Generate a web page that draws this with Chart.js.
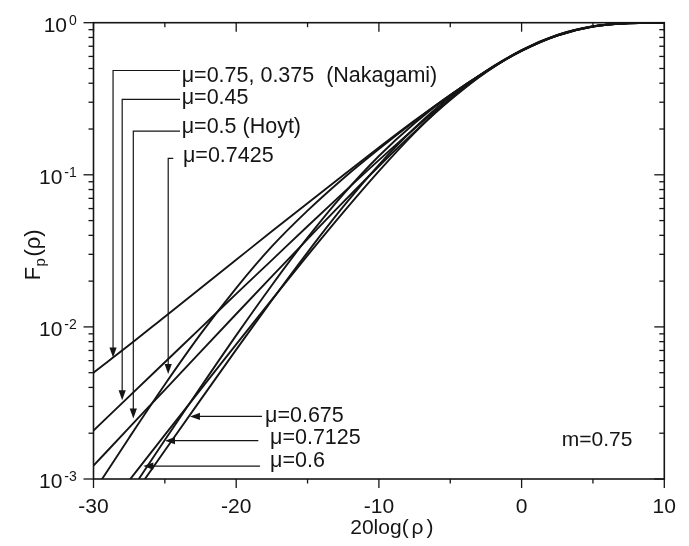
<!DOCTYPE html>
<html>
<head>
<meta charset="utf-8">
<script src="https://cdn.jsdelivr.net/npm/chart.js@4/dist/chart.umd.min.js"></script>
<style>
  html, body { margin: 0; padding: 0; background: #ffffff; }
  canvas { display: block; }
</style>
</head>
<body>
<canvas id="cdf" width="689" height="546"></canvas>
<script>
// Normalised envelope level, 20log(rho) in dB
const levelsDb = [-30, -27.5, -25, -22.5, -20, -17.5, -15, -12.5, -10, -7.5, -5, -2.5, 0, 2.5, 5, 7.5, 10];

// CDF F_rho(rho) for m = 0.75, one array per mu
const cdfMu075Nakagami = [5.0e-3, 7.59e-3, 1.168e-2, 1.797e-2, 2.764e-2, 4.25e-2, 6.51e-2, 9.94e-2, 0.151, 0.2271, 0.335, 0.479, 0.652, 0.822, 0.943, 0.992, 0.9997];
const cdfMu045 = [2.08e-3, 3.495e-3, 5.86e-3, 9.82e-3, 1.648e-2, 2.749e-2, 4.59e-2, 7.61e-2, 0.1249, 0.2015, 0.3158, 0.472, 0.657, 0.828, 0.946, 0.993, 0.9998];
const cdfMu05Hoyt = [1.224e-3, 2.176e-3, 3.86e-3, 6.86e-3, 1.216e-2, 2.149e-2, 3.78e-2, 6.61e-2, 0.1138, 0.1915, 0.310, 0.4726, 0.661, 0.832, 0.948, 0.993, 0.9998];
const cdfMu07425 = [8.2e-4, 1.87e-3, 4.18e-3, 8.96e-3, 1.80e-2, 3.38e-2, 5.81e-2, 9.46e-2, 0.1477, 0.225, 0.334, 0.478, 0.652, 0.822, 0.943, 0.992, 0.9997];
const cdfMu06 = [4.91e-4, 9.78e-4, 1.948e-3, 3.87e-3, 7.67e-3, 1.511e-2, 2.949e-2, 5.66e-2, 0.1057, 0.1887, 0.315, 0.481, 0.658, 0.829, 0.946, 0.993, 0.9998];
const cdfMu07125 = [3.56e-4, 8.04e-4, 1.804e-3, 4.01e-3, 8.80e-3, 1.88e-2, 3.86e-2, 7.44e-2, 0.133, 0.2184, 0.3335, 0.479, 0.654, 0.824, 0.944, 0.992, 0.9997];
const cdfMu0675 = [3.28e-4, 7.11e-4, 1.539e-3, 3.315e-3, 7.09e-3, 1.497e-2, 3.093e-2, 6.17e-2, 0.1163, 0.2032, 0.326, 0.478, 0.655, 0.826, 0.945, 0.992, 0.9997];

const seriesList = [cdfMu075Nakagami, cdfMu045, cdfMu05Hoyt, cdfMu07425, cdfMu06, cdfMu07125, cdfMu0675];

// Axis ticks
const xMajorTicks = [-30, -20, -10, 0, 10];
const xMinorTicks = [-25, -15, -5, 5];
const yDecadeExponents = [-3, -2, -1, 0];

// Callouts: label text with a leader that drops down onto a curve
const dropCallouts = [
  { text: 'μ=0.75, 0.375  (Nakagami)', textX: -23.82, textY: 0.409, elbowX: -28.63, elbowY: 0.485, endX: -23.94, tipY: 6.3e-3 },
  { text: 'μ=0.45', textX: -23.82, textY: 0.2907, elbowX: -27.99, elbowY: 0.3135, endX: -23.94, tipY: 3.3e-3 },
  { text: 'μ=0.5 (Hoyt)', textX: -23.82, textY: 0.189, elbowX: -27.21, elbowY: 0.194, endX: -23.94, tipY: 2.5e-3 },
  { text: 'μ=0.7425', textX: -23.73, textY: 0.122, elbowX: -24.765, elbowY: 0.1284, endX: -24.41, tipY: 4.9e-3 }
];
// Callouts whose arrow points left onto a curve
const sideCallouts = [
  { text: 'μ=0.675', textX: -17.98, textY: 2.38e-3, tipX: -23.24, tailX: -18.19, lineY: 2.58e-3 },
  { text: 'μ=0.7125', textX: -17.63, textY: 1.70e-3, tipX: -24.99, tailX: -18.45, lineY: 1.786e-3 },
  { text: 'μ=0.6', textX: -17.63, textY: 1.194e-3, tipX: -26.51, tailX: -18.33, lineY: 1.217e-3 }
];
const shapeNote = { text: 'm=0.75', x: 2.81, y: 1.655e-3 };

const INK = '#151515';
const FONT = '"Liberation Sans", Arial, Helvetica, sans-serif';

const datasets = seriesList.map(vals => ({
  data: levelsDb.map((x, i) => ({ x, y: vals[i] })),
  borderColor: INK,
  borderWidth: 1.9,
  pointRadius: 0,
  fill: false,
  cubicInterpolationMode: 'monotone'
}));

function seg(ctx, x1, y1, x2, y2) {
  ctx.beginPath();
  ctx.moveTo(x1, y1);
  ctx.lineTo(x2, y2);
  ctx.stroke();
}

function arrowHead(ctx, tx, ty, dir) {
  // dir: 'down' or 'left'
  const len = 10, half = 3.6;
  ctx.beginPath();
  if (dir === 'down') {
    ctx.moveTo(tx, ty);
    ctx.lineTo(tx - half, ty - len);
    ctx.lineTo(tx + half, ty - len);
  } else {
    ctx.moveTo(tx, ty);
    ctx.lineTo(tx + len, ty - half);
    ctx.lineTo(tx + len, ty + half);
  }
  ctx.closePath();
  ctx.fill();
}

const framePlugin = {
  id: 'frameAndLabels',
  afterDatasetsDraw(chart) {
    const { ctx, chartArea: a, scales } = chart;
    const xs = scales.x, ys = scales.y;
    ctx.save();
    ctx.strokeStyle = INK;
    ctx.fillStyle = INK;

    // frame
    ctx.lineWidth = 1.6;
    ctx.strokeRect(a.left, a.top, a.right - a.left, a.bottom - a.top);

    // x ticks: outward at the bottom, inward at the top
    ctx.lineWidth = 1.3;
    xMajorTicks.forEach(v => {
      const px = xs.getPixelForValue(v);
      seg(ctx, px, a.bottom, px, a.bottom + 9);
      seg(ctx, px, a.top, px, a.top + 9);
    });
    xMinorTicks.forEach(v => {
      const px = xs.getPixelForValue(v);
      seg(ctx, px, a.bottom, px, a.bottom + 4.5);
      seg(ctx, px, a.top, px, a.top + 4.5);
    });

    // y ticks: outward on the left, inward on the right
    yDecadeExponents.forEach(e => {
      const py = ys.getPixelForValue(Math.pow(10, e));
      seg(ctx, a.left - 10, py, a.left, py);
      seg(ctx, a.right - 10, py, a.right, py);
      if (e < 0) {
        for (let k = 2; k <= 9; k++) {
          const pm = ys.getPixelForValue(k * Math.pow(10, e));
          seg(ctx, a.left - 5, pm, a.left, pm);
          seg(ctx, a.right - 5, pm, a.right, pm);
        }
      }
    });

    // x tick labels
    ctx.font = '21px ' + FONT;
    ctx.textAlign = 'center';
    ctx.textBaseline = 'alphabetic';
    xMajorTicks.forEach(v => {
      ctx.fillText(String(v), xs.getPixelForValue(v), a.bottom + 33.5);
    });

    // y tick labels: 10 with superscript exponent
    yDecadeExponents.forEach(e => {
      const py = ys.getPixelForValue(Math.pow(10, e));
      const right = a.left - 16.7;
      ctx.font = '14px ' + FONT;
      ctx.textAlign = 'right';
      const sup = String(e);
      ctx.fillText(sup, right, py + 1.8);
      const supW = ctx.measureText(sup).width;
      ctx.font = '21px ' + FONT;
      ctx.fillText('10', right - supW - 2, py + 9.3);
    });

    // axis titles
    ctx.font = '21px ' + FONT;
    ctx.textAlign = 'left';
    const title = '20log(';
    const tw = ctx.measureText(title).width;
    const rw = ctx.measureText('ρ').width;
    const cw = ctx.measureText(')').width;
    const totalW = tw + 3 + rw + 3 + cw;
    let tx = (a.left + a.right) / 2 + 13 - totalW / 2;
    const tyBase = a.bottom + 55;
    ctx.fillText(title, tx, tyBase);
    ctx.fillText('ρ', tx + tw + 3, tyBase);
    ctx.fillText(')', tx + tw + 3 + rw + 3, tyBase);

    ctx.save();
    ctx.translate(40, (a.top + a.bottom) / 2 + 4);
    ctx.rotate(-Math.PI / 2);
    ctx.textAlign = 'left';
    ctx.font = '22px ' + FONT;
    const fW = ctx.measureText('F').width;
    ctx.font = '15px ' + FONT;
    const pW = ctx.measureText('p').width;
    ctx.font = '22px ' + FONT;
    const pr = '(ρ)';
    const prW = ctx.measureText(pr).width;
    const startX = -(fW + pW + 2 + prW) / 2;
    ctx.fillText('F', startX, 0);
    ctx.font = '15px ' + FONT;
    ctx.fillText('p', startX + fW + 0.5, 5);
    ctx.font = '22px ' + FONT;
    ctx.fillText(pr, startX + fW + pW + 2, 0);
    ctx.restore();

    // callouts
    ctx.lineWidth = 1.2;
    ctx.font = '21.5px ' + FONT;
    ctx.textAlign = 'left';
    dropCallouts.forEach(c => {
      const ex = xs.getPixelForValue(c.elbowX);
      const ey = ys.getPixelForValue(c.elbowY);
      const endx = xs.getPixelForValue(c.endX);
      const tipy = ys.getPixelForValue(c.tipY);
      ctx.beginPath();
      ctx.moveTo(endx, ey);
      ctx.lineTo(ex, ey);
      ctx.lineTo(ex, tipy - 8);
      ctx.stroke();
      arrowHead(ctx, ex, tipy, 'down');
      ctx.fillText(c.text, xs.getPixelForValue(c.textX), ys.getPixelForValue(c.textY));
    });
    sideCallouts.forEach(c => {
      const tipx = xs.getPixelForValue(c.tipX);
      const tailx = xs.getPixelForValue(c.tailX);
      const ly = ys.getPixelForValue(c.lineY);
      seg(ctx, tipx + 8, ly, tailx, ly);
      arrowHead(ctx, tipx, ly, 'left');
      ctx.fillText(c.text, xs.getPixelForValue(c.textX), ys.getPixelForValue(c.textY));
    });
    ctx.font = '21px ' + FONT;
    ctx.fillText(shapeNote.text, xs.getPixelForValue(shapeNote.x), ys.getPixelForValue(shapeNote.y));

    ctx.restore();
  }
};

new Chart(document.getElementById('cdf'), {
  type: 'line',
  data: { datasets },
  options: {
    responsive: false,
    devicePixelRatio: 1,
    animation: false,
    events: [],
    layout: { padding: { left: 93.5, right: 24.7, top: 22.7, bottom: 67 } },
    plugins: { legend: { display: false }, tooltip: { enabled: false }, title: { display: false } },
    scales: {
      x: { type: 'linear', min: -30, max: 10, display: false },
      y: { type: 'logarithmic', min: 1e-3, max: 1, display: false }
    }
  },
  plugins: [framePlugin]
});
</script>
</body>
</html>
